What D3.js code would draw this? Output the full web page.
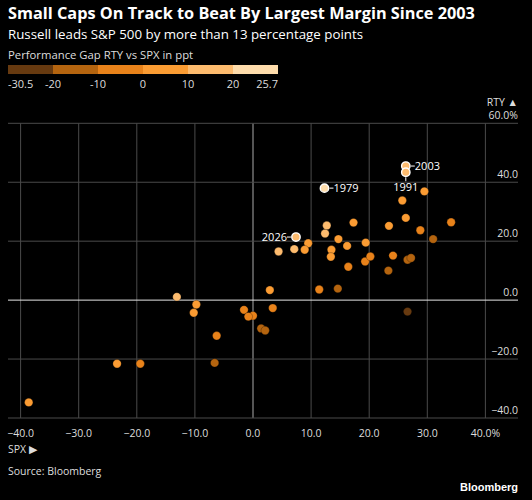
<!DOCTYPE html>
<html>
<head>
<meta charset="utf-8">
<script src="https://cdn.jsdelivr.net/npm/d3@7"></script>
<style>
  body { margin: 0; background: #000; }
  svg text { font-family: "Open Sans", "Noto Sans", sans-serif; }
</style>
</head>
<body>
<div id="chart"></div>
<script>
// returns in percent, one per year (SPX on x, RTY on y)
var spx = [26.3, 26.3, 12.3, 7.4, 29.5, 25.7, 26.3, 23.4, 28.8, 34.1, 31.0, 17.3, 12.7, 12.4, 14.7, 9.5,
           4.4, 7.1, 8.9, 13.5, 13.4, 16.2, 19.4, 16.4, 19.3, 20.2, 24.1, 23.3, 26.6, 27.2, 2.9, 11.4,
           14.6, 0.0, 3.4, 26.6, -13.1, -9.75, -10.2, -6.25, -6.6, -1.55, -0.8, 1.4, 2.1, -38.6, -23.4, -19.4];
var rty = [45.5, 43.4, 38.0, 21.4, 36.9, 33.8, 27.9, 25.2, 23.7, 26.4, 20.7, 26.3, 25.3, 22.6, 20.7, 19.3,
           16.5, 17.3, 17.1, 17.1, 14.7, 18.4, 19.5, 11.3, 13.1, 14.8, 15.1, 10.0, 13.7, 14.3, 3.4, 3.6,
           3.9, -5.3, -2.7, -3.9, 1.1, -1.5, -4.3, -12.1, -21.3, -3.3, -5.6, -9.6, -10.3, -34.7, -21.6, -21.6];
var labelYears = ["2003", "1991", "1979", "2026"];
var labelIdx = [0, 1, 2, 3];

var gapBreaks = [-20, -10, 0, 10, 20];
var gapColors = ["#673a10", "#b4640f", "#e8821a", "#fb9c33", "#fdbb6e", "#fedcab"];
var gapTicks = ["-30.5", "-20", "-10", "0", "10", "20", "25.7"];

var xTicks = [-40, -30, -20, -10, 0, 10, 20, 30, 40];
var yTicks = [-40, -20, 0, 20, 40, 60];

var W = 532, H = 500;
var svg = d3.select("#chart").append("svg").attr("width", W).attr("height", H)
  .style("background", "#000");

// titles
svg.append("text").attr("x", 8).attr("y", 19).attr("fill", "#fff")
  .attr("font-size", 16.3).attr("font-weight", "bold")
  .text("Small Caps On Track to Beat By Largest Margin Since 2003");
svg.append("text").attr("x", 8).attr("y", 38.5).attr("fill", "#fff")
  .attr("font-size", 13.3)
  .text("Russell leads S&P 500 by more than 13 percentage points");
svg.append("text").attr("x", 8).attr("y", 58.5).attr("fill", "#ddd")
  .attr("font-size", 11.3)
  .text("Performance Gap RTY vs SPX in ppt");

// legend
var color = d3.scaleThreshold().domain(gapBreaks).range(gapColors);
var lg = d3.scaleBand().domain(d3.range(gapColors.length)).range([8, 278]);
svg.append("g").selectAll("rect").data(gapColors).enter().append("rect")
  .attr("x", function(d, i) { return lg(i); })
  .attr("y", 65).attr("width", lg.bandwidth()).attr("height", 9)
  .attr("fill", function(d) { return d; });
svg.append("g").selectAll("text").data(gapTicks).enter().append("text")
  .attr("x", function(d, i) { return i === 0 ? 8 : (i === gapTicks.length - 1 ? 278 : lg(i)); })
  .attr("y", 87.5).attr("fill", "#ddd").attr("font-size", 11)
  .attr("text-anchor", function(d, i) { return i === 0 ? "start" : (i === gapTicks.length - 1 ? "end" : "middle"); })
  .text(function(d) { return d; });

// scales
var x = d3.scaleLinear().domain([-40, 40]).range([20.6, 485.4]);
var y = d3.scaleLinear().domain([-40, 60]).range([418, 123.3]);
var left = 8, right = 518;

// grid
svg.append("g").selectAll("line").data(xTicks).enter().append("line")
  .attr("x1", function(d) { return x(d); }).attr("x2", function(d) { return x(d); })
  .attr("y1", y(60)).attr("y2", y(-40))
  .attr("stroke", function(d) { return d === 0 ? "#aaa" : "#4a4a4a"; })
  .attr("stroke-width", 1);
svg.append("g").selectAll("line").data(yTicks).enter().append("line")
  .attr("x1", left).attr("x2", right)
  .attr("y1", function(d) { return y(d); }).attr("y2", function(d) { return y(d); })
  .attr("stroke", function(d) { return d === 0 ? "#e6e6e6" : "#4a4a4a"; })
  .attr("stroke-width", 1);

// axis labels
svg.append("g").selectAll("text").data(xTicks).enter().append("text")
  .attr("x", function(d) { return x(d); }).attr("y", 437)
  .attr("text-anchor", "middle").attr("fill", "#ddd").attr("font-size", 10.5)
  .text(function(d, i) { return d3.format(".1f")(d) + (i === xTicks.length - 1 ? "%" : ""); });
svg.append("g").selectAll("text").data(yTicks).enter().append("text")
  .attr("x", right).attr("y", function(d) { return y(d) - 4; })
  .attr("text-anchor", "end").attr("fill", "#ddd").attr("font-size", 10.5)
  .text(function(d, i) { return d3.format(".1f")(d) + (i === yTicks.length - 1 ? "%" : ""); });
svg.append("text").attr("x", right).attr("y", 106).attr("text-anchor", "end")
  .attr("fill", "#ddd").attr("font-size", 10.5).text("RTY \u25B2");
svg.append("text").attr("x", 8).attr("y", 453)
  .attr("fill", "#ddd").attr("font-size", 10.5).text("SPX \u25B6");

// points
var pts = spx.map(function(d, i) { return { x: d, y: rty[i], i: i }; });
var labeled = function(i) { return labelIdx.indexOf(i) >= 0; };
var drawOrder = pts.filter(function(p) { return !labeled(p.i); })
  .concat(pts.filter(function(p) { return labeled(p.i); }));
svg.append("g").selectAll("circle").data(drawOrder).enter().append("circle")
  .attr("cx", function(d) { return x(d.x); })
  .attr("cy", function(d) { return y(d.y); })
  .attr("r", 4.2)
  .attr("fill", function(d) { return color(d.y - d.x); })
  .attr("stroke", function(d) { return labeled(d.i) ? "#fff" : "rgba(0,0,0,0.45)"; })
  .attr("stroke-width", function(d) { return labeled(d.i) ? 1.4 : 0.6; });

// annotations: 2003 right, 1991 below, 1979 right, 2026 left
var lab = svg.append("g");
labelIdx.forEach(function(idx, k) {
  var px = x(spx[idx]), py = y(rty[idx]);
  var t = labelYears[k];
  if (t === "1991") {
    lab.append("line").attr("x1", px).attr("x2", px).attr("y1", py + 5).attr("y2", py + 9)
      .attr("stroke", "#fff");
    lab.append("text").attr("x", px).attr("y", py + 19).attr("text-anchor", "middle")
      .attr("fill", "#fff").attr("font-size", 11).text(t);
  } else if (t === "2026") {
    lab.append("line").attr("x1", px - 5).attr("x2", px - 9).attr("y1", py).attr("y2", py)
      .attr("stroke", "#fff");
    lab.append("text").attr("x", px - 9).attr("y", py + 4).attr("text-anchor", "end")
      .attr("fill", "#fff").attr("font-size", 11).text(t);
  } else {
    lab.append("line").attr("x1", px + 5).attr("x2", px + 9).attr("y1", py).attr("y2", py)
      .attr("stroke", "#fff");
    lab.append("text").attr("x", px + 9).attr("y", py + 4).attr("text-anchor", "start")
      .attr("fill", "#fff").attr("font-size", 11).text(t);
  }
});

// footer
svg.append("text").attr("x", 8).attr("y", 475).attr("fill", "#ddd")
  .attr("font-size", 10.5).text("Source: Bloomberg");
svg.append("text").attr("x", right).attr("y", 491).attr("text-anchor", "end")
  .attr("fill", "#fff").attr("font-size", 11).attr("font-weight", "bold")
  .style("font-family", "Liberation Sans, Arial, sans-serif").text("Bloomberg");
</script>
</body>
</html>
